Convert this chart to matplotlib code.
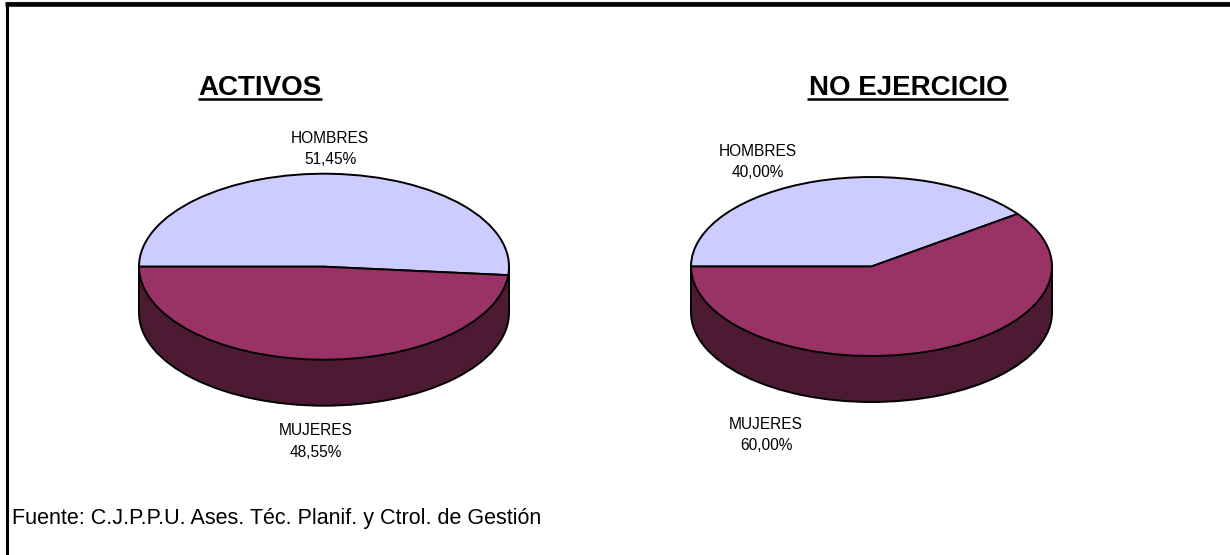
import matplotlib
matplotlib.use("Agg")
from matplotlib import pyplot as plt
from matplotlib.lines import Line2D

plt.rcParams['font.family'] = ['Liberation Sans', 'DejaVu Sans']

categories = ['HOMBRES', 'MUJERES']
activos = [51.45, 48.55]
no_ejercicio = [40.00, 60.00]
titles = ['ACTIVOS', 'NO EJERCICIO']
fuente = 'Fuente: C.J.P.P.U. Ases. Téc. Planif. y Ctrol. de Gestión'

W, H = 1230, 555
top_colors = ['#CCCCFF', '#993366']
side_color = '#4D1A33'

fig = plt.figure(figsize=(W / 100, H / 100), dpi=100)
fig.patch.set_facecolor('white')


def px_text(x, y, s, **kw):
    fig.text(x / W, 1 - y / H, s, **kw)


def px_line(x0, x1, y0, y1, lw, color='black'):
    fig.add_artist(Line2D([x0 / W, x1 / W], [1 - y0 / H, 1 - y1 / H], color=color,
                          lw=lw, solid_capstyle='butt'))


def pct(v):
    return f'{v:.2f}%'.replace('.', ',')


def pie3d(values, cx, cy, rx, ry, depth):
    d = depth / ry
    ax = fig.add_axes([(cx - rx - 2) / W, 1 - (cy + ry + depth + 2) / H,
                       (2 * rx + 4) / W, (2 * ry + depth + 4) / H])
    wp = {'edgecolor': 'black', 'linewidth': 1.4}
    ax.pie([sum(values)], colors=[side_color], startangle=180, center=(0, -d), wedgeprops=wp)
    ax.fill_between([-1, 1], -d, 0, color=side_color, lw=0, zorder=1.5)
    ax.plot([-1, -1], [-d, 0], color='black', lw=1.4, zorder=1.6)
    ax.plot([1, 1], [-d, 0], color='black', lw=1.4, zorder=1.6)
    wedges, _ = ax.pie(values, colors=top_colors, startangle=180, counterclock=False,
                       wedgeprops=wp)
    for w in wedges:
        w.set_zorder(2)
    ax.set_aspect('auto')
    ax.set_xlim(-1 - 2 / rx, 1 + 2 / rx)
    ax.set_ylim(-1 - d - 2 / ry, 1 + 2 / ry)
    ax.axis('off')


pie3d(activos, 324, 266.7, 185, 93, 46)
pie3d(no_ejercicio, 871.5, 266.5, 180.5, 89.5, 46)

# marco
px_line(6.5, 6.5, 2, 555, 2.2)
px_line(7, 1230, 1.5, 1.5, 0.8, color='#666666')
px_line(5, 1230, 4.4, 4.4, 3.3)

px_text(259.5, 95, titles[0], fontsize=20, fontweight='bold', ha='center', va='baseline')
px_line(198, 322, 98.5, 98.5, 1.8)
px_text(908, 95, titles[1], fontsize=20, fontweight='bold', ha='center', va='baseline')
px_line(807, 1008, 98.5, 98.5, 1.8)

lab = dict(fontsize=11.2, ha='center', va='baseline', color='black')
px_text(330, 143, categories[0], **lab)
px_text(330, 164, pct(activos[0]), **lab)
px_text(316, 435, categories[1], **lab)
px_text(316, 457, pct(activos[1]), **lab)
px_text(758, 156, categories[0], **lab)
px_text(758, 177, pct(no_ejercicio[0]), **lab)
px_text(766, 429, categories[1], **lab)
px_text(766, 450, pct(no_ejercicio[1]), **lab)

px_text(12, 524, fuente, fontsize=15.5, ha='left', va='baseline', color='black')

fig.savefig('out.png', dpi=100)
